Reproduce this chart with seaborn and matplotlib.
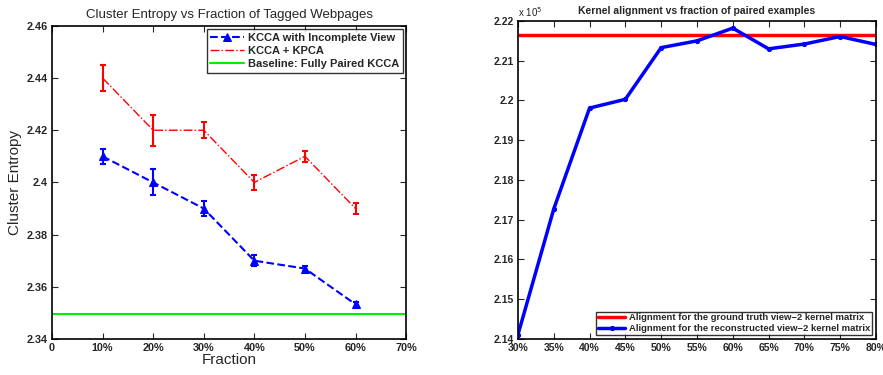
import numpy as np
import pandas as pd
import seaborn as sns
import matplotlib
matplotlib.use("Agg")
import matplotlib.pyplot as plt

# left panel data
frac = [10, 20, 30, 40, 50, 60]
kcca_incomplete = [2.41, 2.40, 2.39, 2.37, 2.367, 2.3533]
kcca_incomplete_err = [0.003, 0.005, 0.003, 0.002, 0.001, 0.001]
kcca_kpca = [2.44, 2.42, 2.42, 2.40, 2.41, 2.39]
kcca_kpca_err = [0.005, 0.006, 0.003, 0.003, 0.002, 0.002]
baseline = 2.3497

# right panel data (x 10^5)
paired = [30, 35, 40, 45, 50, 55, 60, 65, 70, 75, 80]
reconstructed = [2.1411, 2.1727, 2.1981, 2.2003, 2.2133, 2.2150, 2.2182,
                 2.2130, 2.2142, 2.2161, 2.2141]
ground_truth = 2.2166

sns.set_style("ticks")
plt.rcParams['font.family'] = ['Liberation Sans', 'DejaVu Sans']

fig = plt.figure(figsize=(8.83, 3.75), dpi=100)
ax1 = fig.add_axes([0.0589, 0.096, 0.401, 0.835])
ax2 = fig.add_axes([0.5866, 0.096, 0.4054, 0.848])

df1 = pd.DataFrame({'frac': frac, 'a': kcca_incomplete, 'b': kcca_kpca})

sns.lineplot(data=df1, x='frac', y='a', ax=ax1, color='blue', lw=1.5,
             linestyle='--', marker='^', markersize=6, markeredgecolor='blue',
             label='KCCA with Incomplete View')
sns.lineplot(data=df1, x='frac', y='b', ax=ax1, color='red', lw=1.0,
             linestyle='-.', label='KCCA + KPCA')
ax1.axhline(baseline, color='#00ee00', lw=1.5, label='Baseline: Fully Paired KCCA')
ax1.errorbar(frac, kcca_incomplete, yerr=kcca_incomplete_err, fmt='none',
             ecolor='blue', elinewidth=1.5, capsize=2.2, capthick=1.5)
ax1.errorbar(frac, kcca_kpca, yerr=kcca_kpca_err, fmt='none',
             ecolor='red', elinewidth=1.5, capsize=2.2, capthick=1.5)

ax1.set_xlim(0, 70)
ax1.set_ylim(2.34, 2.46)
ax1.set_xticks(range(0, 71, 10))
ax1.set_xticklabels(['0'] + ['%d%%' % v for v in range(10, 71, 10)])
yt = [2.34, 2.36, 2.38, 2.40, 2.42, 2.44, 2.46]
ax1.set_yticks(yt)
ax1.set_yticklabels(['2.34', '2.36', '2.38', '2.4', '2.42', '2.44', '2.46'])
ax1.set_xlabel('Fraction', fontsize=11, labelpad=0)
ax1.set_ylabel('Cluster Entropy', fontsize=11, labelpad=3)
ax1.set_title('Cluster Entropy vs Fraction of Tagged Webpages', fontsize=9.5, pad=6)
leg1 = ax1.legend(loc='upper right', frameon=True, fancybox=False,
                  borderpad=0.3, labelspacing=0.3, handlelength=3.0,
                  handletextpad=0.4, borderaxespad=0.3,
                  prop={'weight': 'bold', 'size': 8})
leg1.get_frame().set_edgecolor('black')
leg1.get_frame().set_linewidth(1.0)

df2 = pd.DataFrame({'paired': paired, 'rec': reconstructed})
ax2.axhline(ground_truth, color='red', lw=2.5,
            label='Alignment for the ground truth view\u22122 kernel matrix')
sns.lineplot(data=df2, x='paired', y='rec', ax=ax2, color='blue', lw=2.5,
             marker='o', markersize=3, markeredgecolor='blue',
             label='Alignment for the reconstructed view\u22122 kernel matrix')
ax2.set_xlim(30, 80)
ax2.set_ylim(2.14, 2.22)
ax2.set_xticks(paired)
ax2.set_xticklabels(['%d%%' % v for v in paired])
ax2.set_yticks([2.14, 2.15, 2.16, 2.17, 2.18, 2.19, 2.20, 2.21, 2.22])
ax2.set_yticklabels(['2.14', '2.15', '2.16', '2.17', '2.18', '2.19', '2.2',
                     '2.21', '2.22'])
ax2.set_xlabel('')
ax2.set_ylabel('')
ax2.set_title('Kernel alignment vs fraction of paired examples', fontsize=7.5,
              fontweight='bold', pad=5)
ax2.text(0.0, 1.005, 'x 10$^5$', transform=ax2.transAxes, fontsize=7,
         va='bottom', ha='left')
leg2 = ax2.legend(loc='lower right', frameon=True, fancybox=False,
                  borderpad=0.2, labelspacing=0.15, handlelength=2.8,
                  handletextpad=0.4, borderaxespad=0.45,
                  prop={'weight': 'bold', 'size': 6.8})
leg2.get_frame().set_edgecolor('black')
leg2.get_frame().set_linewidth(1.0)

for ax in (ax1, ax2):
    ax.tick_params(direction='in', length=4, width=0.8, top=True, right=True,
                   labelsize=7.8, pad=3)
    for lab in ax.get_xticklabels() + ax.get_yticklabels():
        lab.set_fontweight('bold')
    for sp in ax.spines.values():
        sp.set_visible(True)
        sp.set_linewidth(1.2)
        sp.set_color('black')
ax2.tick_params(labelsize=7.5)

fig.savefig('out.png', dpi=100)
